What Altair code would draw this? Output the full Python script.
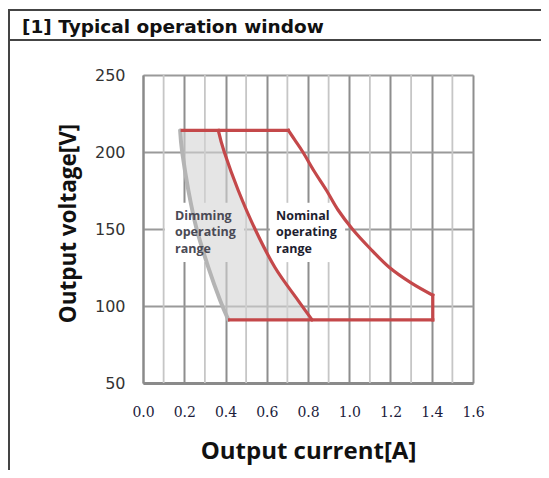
import altair as alt
import pandas as pd

header_text = "[1] Typical operation window"
x_title = "Output current[A]"
y_title = "Output voltage[V]"

x_major = [0.0, 0.2, 0.4, 0.6, 0.8, 1.0, 1.2, 1.4, 1.6]
x_minor = [0.1, 0.3, 0.5, 0.7, 0.9, 1.1, 1.3, 1.5]
y_ticks = [50, 75, 100, 125, 150, 175, 200, 225, 250]

top_i = [0.19, 0.705]
top_v = [214, 214]
right_i = [0.705, 0.735, 0.775, 0.83, 0.89, 0.945, 1.015, 1.10, 1.195, 1.30, 1.405]
right_v = [214, 208, 200, 187.5, 175, 162.5, 150, 137.5, 125, 115, 107]
side_i = [1.405, 1.405]
side_v = [107, 91]
bottom_i = [1.405, 0.42]
bottom_v = [91, 91]
red_i = [0.365, 0.394, 0.462, 0.543, 0.64, 0.75, 0.82]
red_v = [214, 200, 175, 150, 125, 104, 91]
dim_i = [0.18, 0.19, 0.22, 0.26, 0.317, 0.373, 0.414]
dim_v = [214, 200, 175, 150, 125, 104, 91]

dim_lines = ["Dimming", "operating", "range"]
nom_lines = ["Nominal", "operating", "range"]
label_v = [158.5, 148, 137]
dim_label_i = 0.155
nom_label_i = 0.645
box_i0 = [0.105, 0.615]
box_i1 = [0.49, 0.98]
box_v0 = [128.5, 128.5]
box_v1 = [167, 167]

RED = "#c4484a"
GRAY_LINE = "#b4b4b4"

segs = []
for name, xs_, ys_ in [
    ("top", top_i, top_v),
    ("right", right_i, right_v),
    ("side", side_i, side_v),
    ("bottom", bottom_i, bottom_v),
    ("left", red_i, red_v),
]:
    for k, (a, b) in enumerate(zip(xs_, ys_)):
        segs.append({"seg": name, "ord": k, "I": a, "V": b})
red_df = pd.DataFrame(segs)
dim_df = pd.DataFrame({"I": dim_i, "V": dim_v, "ord": list(range(len(dim_i)))})
fill_df = pd.DataFrame({"V": dim_v, "I0": dim_i, "I1": red_i})
box_df = pd.DataFrame({"i0": box_i0, "i1": box_i1, "v0": box_v0, "v1": box_v1})

# minor grid lines, interrupted where a label box sits
minor_rows = []
for xm in x_minor:
    hit = None
    for a, b, c, d in zip(box_i0, box_i1, box_v0, box_v1):
        if a <= xm <= b:
            hit = (c, d)
    if hit:
        minor_rows.append({"Im": xm, "m0": 50, "m1": hit[0]})
        minor_rows.append({"Im": xm, "m0": hit[1], "m1": 250})
    else:
        minor_rows.append({"Im": xm, "m0": 50, "m1": 250})
minor_df = pd.DataFrame(minor_rows)

lab_df = pd.DataFrame(
    [{"t": t, "I": dim_label_i, "V": v, "g": "dim"} for t, v in zip(dim_lines, label_v)]
    + [{"t": t, "I": nom_label_i, "V": v, "g": "nom"} for t, v in zip(nom_lines, label_v)]
)

xs = alt.Scale(domain=[0, 1.6], nice=False)
ys = alt.Scale(domain=[50, 250], nice=False)

x_axis = alt.Axis(
    values=x_major,
    format=".1f",
    ticks=False,
    grid=True,
    gridColor="#8e8e8e",
    gridWidth=2,
    domainColor="#8a8a8a",
    domainWidth=3,
    labelFlush=False,
    labelFont="DejaVu Serif",
    labelFontSize=14,
    labelColor="#1c1c3c",
    labelPadding=22,
    title=x_title,
    titleFont="Open Sans",
    titleFontSize=24,
    titleFontWeight="bold",
    titleColor="#111111",
    titleX=165,
    titleY=75,
    titleBaseline="alphabetic",
    titleAlign="center",
)
y_axis = alt.Axis(
    values=y_ticks,
    labelExpr="datum.value % 50 == 0 ? datum.label : ''",
    ticks=False,
    grid=True,
    gridColor="#9a9a9a",
    gridWidth=1.8,
    domainColor="#8a8a8a",
    domainWidth=2,
    labelFlush=False,
    labelFont="DejaVu Sans",
    labelFontSize=16,
    labelColor="#333333",
    labelPadding=18,
    title=y_title,
    titleFont="Open Sans",
    titleFontSize=22.5,
    titleFontWeight="bold",
    titleColor="#111111",
    titleX=-68,
    titleY=148,
    titleAngle=-90,
    titleBaseline="alphabetic",
    titleAlign="center",
)

boxes = alt.Chart(box_df).mark_rect(color="white").encode(
    x=alt.X("i0:Q", scale=xs, axis=x_axis),
    x2="i1:Q",
    y=alt.Y("v0:Q", scale=ys, axis=y_axis),
    y2="v1:Q",
)

minor = alt.Chart(minor_df).mark_rule(color="#c6c6c6", strokeWidth=1.8).encode(
    x=alt.X("Im:Q", scale=xs),
    y=alt.Y("m0:Q", scale=ys),
    y2="m1:Q",
)

fill = alt.Chart(fill_df).mark_area(orient="horizontal", color="#d4d4d4", opacity=0.6, interpolate="cardinal").encode(
    y=alt.Y("V:Q", scale=ys),
    x=alt.X("I0:Q", scale=xs),
    x2="I1:Q",
)

gray = alt.Chart(dim_df).mark_line(color=GRAY_LINE, strokeWidth=4, interpolate="cardinal", strokeCap="round").encode(
    x=alt.X("I:Q", scale=xs),
    y=alt.Y("V:Q", scale=ys),
    order="ord:Q",
)

red = alt.Chart(red_df).mark_line(color=RED, strokeWidth=3.2, interpolate="cardinal", strokeCap="square").encode(
    x=alt.X("I:Q", scale=xs),
    y=alt.Y("V:Q", scale=ys),
    detail="seg:N",
    order="ord:Q",
)

labels = alt.Chart(lab_df).mark_text(
    align="left", baseline="middle", font="Open Sans", fontSize=12.5, fontWeight="bold"
).encode(
    x=alt.X("I:Q", scale=xs),
    y=alt.Y("V:Q", scale=ys),
    text="t:N",
    color=alt.Color("g:N", scale=alt.Scale(domain=["dim", "nom"], range=["#4a4a55", "#1e1e30"]), legend=None),
)

frame_df = pd.DataFrame({"k": [0]})
frame_top = alt.Chart(frame_df).mark_rule(color="#444444", strokeWidth=2).encode(
    x=alt.value(-135), x2=alt.value(400), y=alt.value(-65)
)
frame_sep = alt.Chart(frame_df).mark_rule(color="#444444", strokeWidth=2).encode(
    x=alt.value(-135), x2=alt.value(400), y=alt.value(-35)
)
frame_left = alt.Chart(frame_df).mark_rule(color="#444444", strokeWidth=2).encode(
    x=alt.value(-134), y=alt.value(-65), y2=alt.value(400)
)
header = alt.Chart(frame_df).mark_text(
    align="left", baseline="alphabetic", font="DejaVu Sans", fontSize=18.5, fontWeight="bold", color="#111111"
).encode(x=alt.value(-121), y=alt.value(-42), text=alt.value(header_text))

chart = alt.layer(boxes, minor, fill, gray, red, labels, frame_top, frame_sep, frame_left, header).properties(
    width=330,
    height=308,
    autosize=alt.AutoSizeParams(type="none"),
    padding={"left": 135, "top": 67, "right": 68, "bottom": 87},
).configure_view(stroke="#9a9a9a", strokeWidth=1.5).configure(background="white")

chart.save("out.html", embed_options={"renderer": "svg", "actions": False})
